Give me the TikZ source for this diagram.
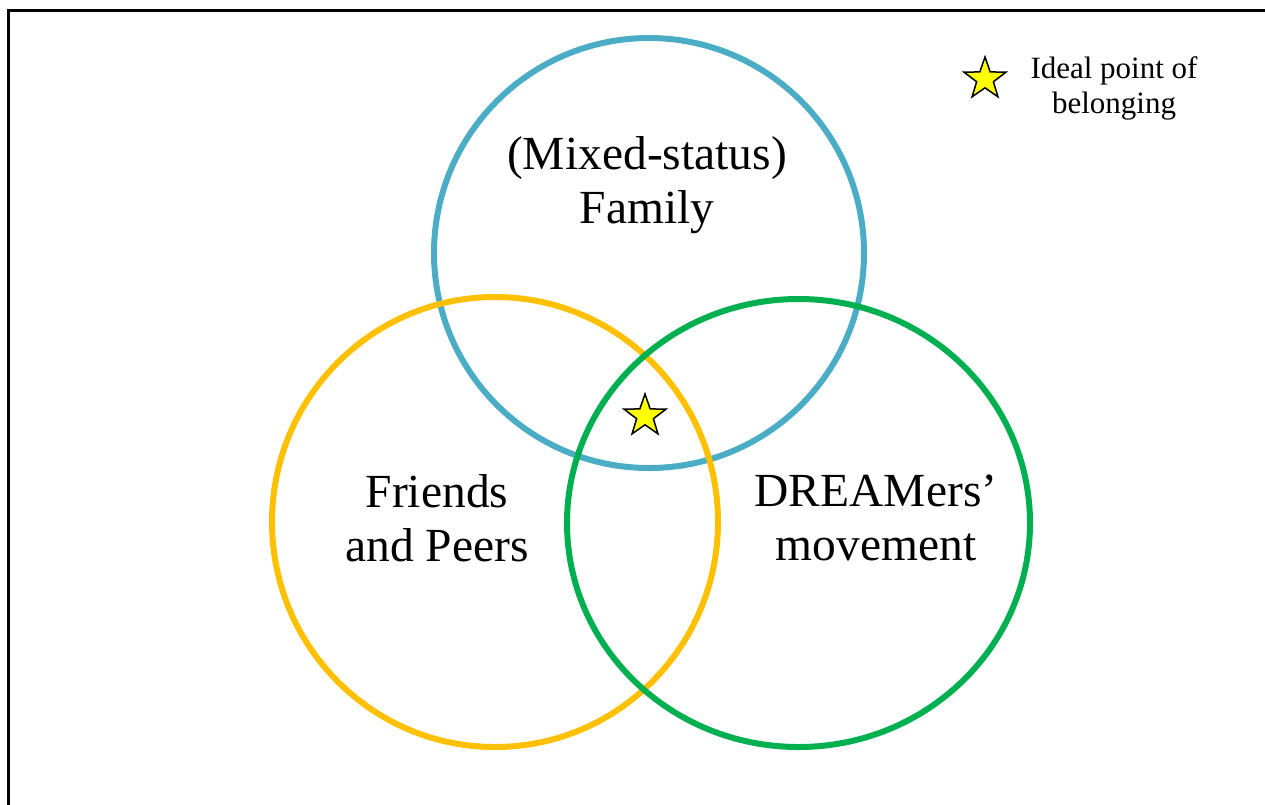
\documentclass[tikz,border=0pt]{standalone}
\usepackage{fontspec}
\setmainfont{Liberation Serif}
\usetikzlibrary{shapes.geometric}
\definecolor{vblue}{HTML}{4BACC6}
\definecolor{vyellow}{HTML}{FFC000}
\definecolor{vgreen}{HTML}{00B050}
\definecolor{staryellow}{HTML}{FFFF00}
\begin{document}
\begin{tikzpicture}[x=1pt,y=-1pt,
  ring/.style={line width=6pt},
  bigtext/.style={align=center,inner sep=0pt,font=\fontsize{47.5}{54}\selectfont},
  smalltext/.style={align=center,inner sep=0pt,font=\fontsize{31}{35}\selectfont},
  starmark/.style={star,star points=5,star point ratio=2.5,draw=black,line width=1.5pt,fill=staryellow,minimum size=44pt,inner sep=0pt}]
\useasboundingbox (0,0) rectangle (1265,804);
\coordinate (bl) at (8,810);
\coordinate (tl) at (8,10);
\coordinate (tr) at (1270,10);
\draw[line width=3pt] (bl) -- (tl) -- (tr);
\draw[ring,vblue] (649,253) circle[radius=215];
\draw[ring,vyellow] (495,522) ellipse[x radius=223,y radius=225];
\draw[ring,vgreen] (798.5,523) ellipse[x radius=231.5,y radius=224];
\node[bigtext] (fam) at (647,185) {(Mixed-status)\\Family};
\node[bigtext] (fri) at (437,518) {Friends\\and Peers};
\node[bigtext] (dre) at (876,518) {DREAMers’\\movement};
\node[starmark] (s1) at (645,416) {};
\node[starmark] (s2) at (985,79) {};
\node[smalltext] (leg) at (1114,88) {Ideal point of\\belonging};
\end{tikzpicture}
\end{document}
